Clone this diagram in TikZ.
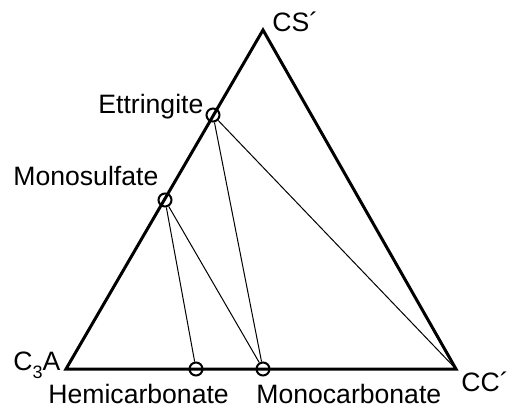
\documentclass[tikz,border=0pt]{standalone}
\usepackage{fontspec}
\setmainfont{Liberation Sans}
\usetikzlibrary{positioning}

\begin{document}
\begin{tikzpicture}[x=0.5pt,y=-0.5pt,
  side/.style={line width=1.5pt},
  tie/.style={line width=0.5pt},
  phase/.style={circle,draw,line width=1pt,minimum size=6.5pt,inner sep=0pt},
  lbl/.style={font=\fontsize{13.3}{16}\selectfont,inner sep=0pt,anchor=base west}]
\useasboundingbox (0,0) rectangle (509,407);

% corners of the diagram
\coordinate (c3a) at (66,369);
\coordinate (cs)  at (263,30);
\coordinate (cc)  at (456,369);

\draw[side] (c3a) -- (cs) -- (cc) -- cycle;

% phases
\node[phase] (ettr)  at (213,115) {};
\node[phase] (monos) at (165,200) {};
\node[phase] (hemi)  at (196,369) {};
\node[phase] (monoc) at (263,369) {};

\draw[tie] (ettr) -- (monoc);
\draw[tie] (ettr) -- (cc);
\draw[tie] (monos) -- (hemi);
\draw[tie] (monos) -- (monoc);

\node[lbl] (lcs)    at (272,32)  {CS´};
\node[lbl] (lc3a)   at (13,370)  {C\raisebox{-4pt}{\fontsize{9}{9}\selectfont 3}A};
\node[lbl] (lcc)    at (461,391) {CC´};
\node[lbl] (lettr)  at (98,113)  {Ettringite};
\node[lbl] (lmonos) at (13,185)  {Monosulfate};
\node[lbl] (lhemi)  at (48,403)  {Hemicarbonate};
\node[lbl] (lmonoc) at (256,403) {Monocarbonate};
\end{tikzpicture}
\end{document}
